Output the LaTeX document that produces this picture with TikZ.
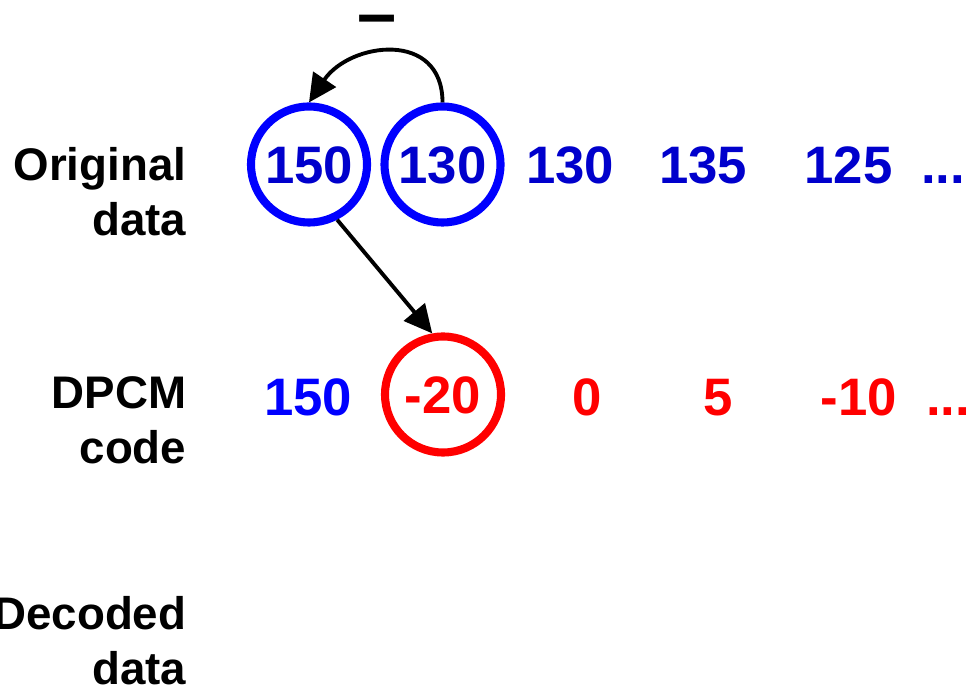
\documentclass[tikz,border=0pt]{standalone}
\usepackage{fontspec}
\setmainfont{Liberation Sans}
\usepackage{tikz}
\usetikzlibrary{arrows.meta}
\definecolor{origblue}{RGB}{0,0,204}
\tikzstyle{value}=[font=\fontsize{15}{18}\selectfont\bfseries, inner sep=0pt, text height=10.7pt, text depth=0pt]
\tikzstyle{circnode}=[value, circle, draw, line width=2.3pt, minimum size=1.16cm]
\tikzstyle{rowlabel}=[font=\fontsize{13}{15.6}\selectfont\bfseries, align=right, anchor=north east, inner sep=0pt]
\tikzstyle{diff}=[-{Triangle[length=0.28cm,width=0.27cm]}, line width=1.1pt]
\newcommand{\val}{\node[value]}
\newcommand{\circnode}{\node[circnode]}

\begin{document}
\begin{tikzpicture}
	\useasboundingbox (0,0) rectangle (9.68,6.93);
	% row labels
	\node[rowlabel] (orig) at (1.87,5.46) {Original\\data};
	\node[rowlabel] (dpcm) at (1.87,3.17) {DPCM\\code};
	\node[rowlabel] (dec) at (1.87,0.97) {Decoded\\data};
	% original samples
	\circnode[color=blue,text=origblue] (o1) at (3.09,5.285) {150};
	\circnode[color=blue,text=origblue] (o2) at (4.425,5.285) {130};
	\val[text=origblue] (o3) at (5.70,5.285) {130};
	\val[text=origblue] (o4) at (7.03,5.285) {135};
	\val[text=origblue] (o5) at (8.485,5.285) {125};
	\val[text=origblue] (o6) at (9.43,5.285) {...};
	% dpcm code
	\val[text=blue] (d1) at (3.08,2.965) {150};
	\circnode[color=red] (d2) at (4.43,2.985) {-20};
	\val[text=red] (d3) at (5.87,2.965) {0};
	\val[text=red] (d4) at (7.18,2.965) {5};
	\val[text=red] (d5) at (8.59,2.965) {-10};
	\val[text=red] (d6) at (9.48,2.965) {...};
	% difference of neighbours
	\node[font=\fontsize{20}{20}\selectfont\bfseries] (minus) at (3.775,6.67) {--};
	\draw[diff] (o2.north) to[out=90,in=56,looseness=1.4] (o1.north);
	\draw[diff] (o1.-63) -- (d2.100);
\end{tikzpicture}
\end{document}
